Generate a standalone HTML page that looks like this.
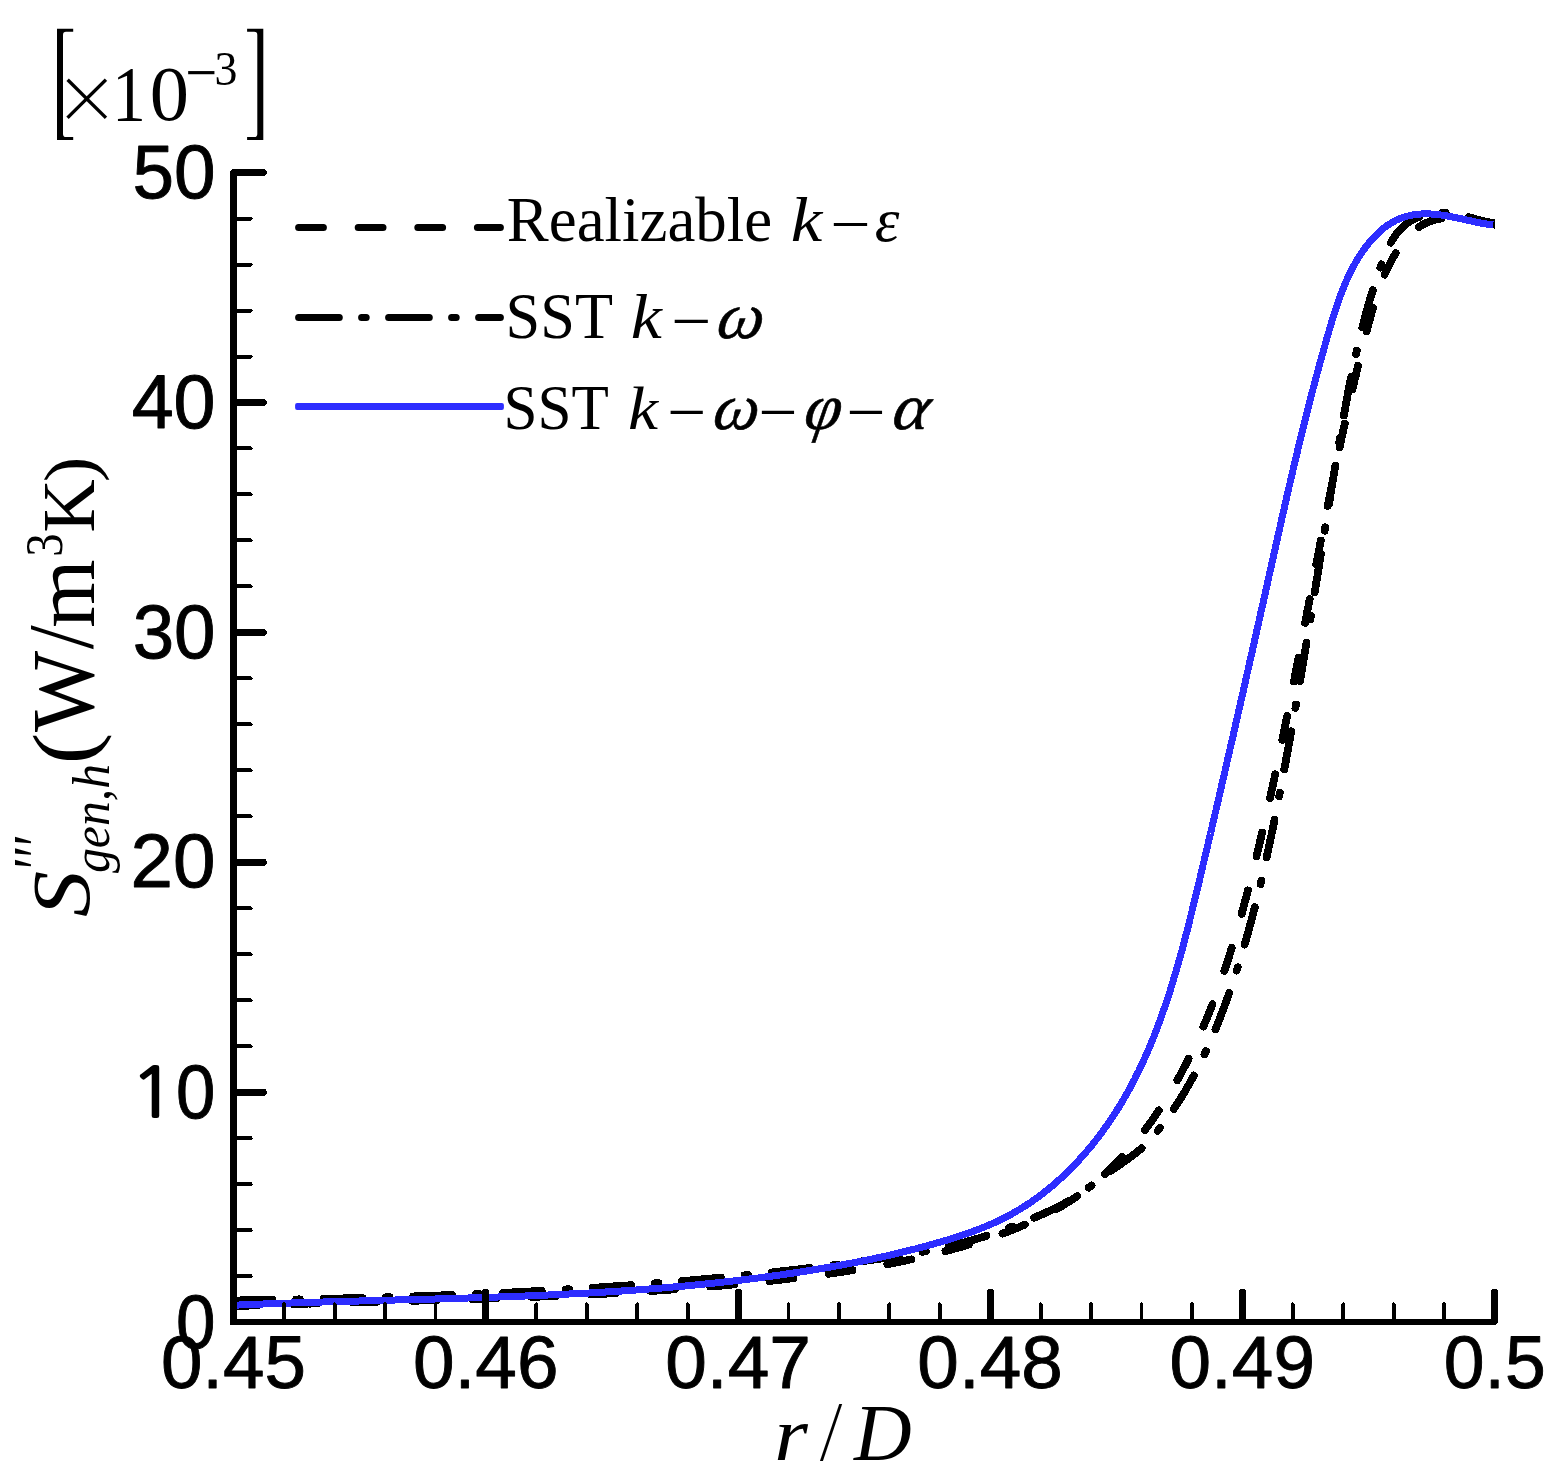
<!DOCTYPE html>
<html lang="en"><head><meta charset="utf-8"><title>Entropy generation plot</title>
<style>
html,body{margin:0;padding:0;background:#fff;}
body{width:1568px;height:1482px;overflow:hidden;}
svg{display:block;}
.sans{font-family:"Liberation Sans",Arial,Helvetica,sans-serif;}
.nanum{font-family:"NanumGothic","Liberation Sans",sans-serif;}
.serif{font-family:"Liberation Serif","Times New Roman",Times,serif;}
.it{font-style:italic;}
</style></head><body>
<svg width="1568" height="1482" viewBox="0 0 1568 1482">
<rect width="1568" height="1482" fill="#fff"/>
<defs><clipPath id="plotclip"><rect x="233.7" y="160" width="1261.3" height="1165"/></clipPath></defs>
<g fill="none" stroke-linecap="round" stroke-linejoin="round" clip-path="url(#plotclip)" shape-rendering="crispEdges">
<path d="M233.8,1306.2 L236.0,1306.1 L238.2,1306.0 L240.4,1305.9 L242.6,1305.8 L244.8,1305.7 L247.0,1305.7 L249.2,1305.6 L251.4,1305.5 L253.6,1305.4 L255.8,1305.3 L257.9,1305.3 L260.1,1305.2 L262.3,1305.1 L264.5,1305.0 L266.7,1305.0 L268.9,1304.9 L271.1,1304.8 L273.3,1304.7 L275.5,1304.7 L277.7,1304.6 L279.9,1304.5 L282.1,1304.5 L284.3,1304.4 L286.5,1304.3 L288.7,1304.2 L290.9,1304.2 L293.1,1304.1 L295.3,1304.0 L297.5,1304.0 L299.7,1303.9 L301.9,1303.8 L304.1,1303.8 L306.3,1303.7 L308.5,1303.6 L310.7,1303.6 L312.9,1303.5 L315.1,1303.4 L317.3,1303.4 L319.6,1303.3 L321.8,1303.2 L324.0,1303.2 L326.2,1303.1 L328.4,1303.1 L330.6,1303.0 L332.8,1302.9 L335.0,1302.9 L337.2,1302.8 L339.4,1302.7 L341.6,1302.7 L343.8,1302.6 L346.0,1302.6 L348.2,1302.5 L350.4,1302.4 L352.6,1302.4 L354.8,1302.3 L357.1,1302.3 L359.3,1302.2 L361.5,1302.1 L363.7,1302.1 L365.9,1302.0 L368.1,1302.0 L370.3,1301.9 L372.5,1301.8 L374.7,1301.8 L376.9,1301.7 L379.1,1301.7 L381.3,1301.6 L383.6,1301.5 L385.8,1301.5 L388.0,1301.4 L390.2,1301.4 L392.4,1301.3 L394.6,1301.2 L396.8,1301.2 L399.0,1301.1 L401.2,1301.1 L403.5,1301.0 L405.7,1300.9 L407.9,1300.9 L410.1,1300.8 L412.3,1300.8 L414.5,1300.7 L416.7,1300.6 L418.9,1300.6 L421.1,1300.5 L423.4,1300.5 L425.6,1300.4 L427.8,1300.3 L430.0,1300.3 L432.2,1300.2 L434.4,1300.2 L436.6,1300.1 L438.8,1300.0 L441.1,1300.0 L443.3,1299.9 L445.5,1299.8 L447.7,1299.8 L449.9,1299.7 L452.1,1299.6 L454.3,1299.6 L456.5,1299.5 L458.8,1299.4 L461.0,1299.4 L463.2,1299.3 L465.4,1299.2 L467.6,1299.2 L469.8,1299.1 L472.0,1299.0 L474.2,1299.0 L476.5,1298.9 L478.7,1298.8 L480.9,1298.8 L483.1,1298.7 L485.3,1298.6 L487.5,1298.5 L489.7,1298.5 L492.0,1298.4 L494.2,1298.3 L496.4,1298.3 L498.6,1298.2 L500.8,1298.1 L503.0,1298.0 L505.2,1297.9 L507.4,1297.9 L509.7,1297.8 L511.9,1297.7 L514.1,1297.6 L516.3,1297.6 L518.5,1297.5 L520.7,1297.4 L522.9,1297.3 L525.2,1297.2 L527.4,1297.1 L529.6,1297.1 L531.8,1297.0 L534.0,1296.9 L536.2,1296.8 L538.4,1296.7 L540.6,1296.6 L542.9,1296.5 L545.1,1296.4 L547.3,1296.4 L549.5,1296.3 L551.7,1296.2 L553.9,1296.1 L556.1,1296.0 L558.3,1295.9 L560.5,1295.8 L562.8,1295.7 L565.0,1295.6 L567.2,1295.5 L569.4,1295.4 L571.6,1295.3 L573.8,1295.2 L576.0,1295.1 L578.2,1295.0 L580.4,1294.9 L582.7,1294.8 L584.9,1294.7 L587.1,1294.6 L589.3,1294.5 L591.5,1294.4 L593.7,1294.2 L595.9,1294.1 L598.1,1294.0 L600.3,1293.9 L602.5,1293.8 L604.7,1293.7 L607.0,1293.6 L609.2,1293.4 L611.4,1293.3 L613.6,1293.2 L615.8,1293.1 L618.0,1293.0 L620.2,1292.8 L622.4,1292.7 L624.6,1292.6 L626.8,1292.4 L629.0,1292.3 L631.2,1292.2 L633.4,1292.1 L635.7,1291.9 L637.9,1291.8 L640.1,1291.6 L642.3,1291.5 L644.5,1291.4 L646.7,1291.2 L648.9,1291.1 L651.1,1290.9 L653.3,1290.8 L655.5,1290.7 L657.7,1290.5 L659.9,1290.4 L662.1,1290.2 L664.3,1290.1 L666.5,1289.9 L668.7,1289.8 L670.9,1289.6 L673.1,1289.4 L675.3,1289.3 L677.5,1289.1 L679.7,1289.0 L681.9,1288.8 L684.1,1288.6 L686.3,1288.5 L688.5,1288.3 L690.7,1288.1 L692.9,1288.0 L695.1,1287.8 L697.3,1287.6 L699.5,1287.4 L701.7,1287.3 L703.9,1287.1 L706.1,1286.9 L708.3,1286.7 L710.5,1286.5 L712.7,1286.4 L714.9,1286.2 L717.1,1286.0 L719.3,1285.8 L721.5,1285.6 L723.7,1285.4 L725.9,1285.2 L728.1,1285.0 L730.3,1284.8 L732.4,1284.6 L734.6,1284.4 L736.8,1284.2 L739.0,1284.0 L741.2,1283.8 L743.4,1283.6 L745.6,1283.4 L747.8,1283.2 L750.0,1282.9 L752.2,1282.7 L754.4,1282.5 L756.5,1282.3 L758.7,1282.1 L760.9,1281.8 L763.1,1281.6 L765.3,1281.4 L767.5,1281.1 L769.7,1280.9 L771.9,1280.7 L774.0,1280.4 L776.2,1280.2 L778.4,1280.0 L780.6,1279.7 L782.8,1279.5 L785.0,1279.2 L787.1,1279.0 L789.3,1278.7 L791.5,1278.5 L793.7,1278.2 L795.9,1278.0 L798.1,1277.7 L800.2,1277.4 L802.4,1277.2 L804.6,1276.9 L806.8,1276.6 L809.0,1276.3 L811.1,1276.1 L813.3,1275.8 L815.5,1275.5 L817.7,1275.2 L819.8,1274.9 L822.0,1274.6 L824.2,1274.4 L826.4,1274.1 L828.5,1273.8 L830.7,1273.4 L832.9,1273.1 L835.1,1272.8 L837.2,1272.5 L839.4,1272.2 L841.6,1271.9 L843.8,1271.6 L845.9,1271.2 L848.1,1270.9 L850.3,1270.6 L852.4,1270.2 L854.6,1269.9 L856.8,1269.5 L859.0,1269.2 L861.1,1268.8 L863.3,1268.5 L865.5,1268.1 L867.6,1267.7 L869.8,1267.4 L872.0,1267.0 L874.1,1266.6 L876.3,1266.2 L878.5,1265.8 L880.6,1265.4 L882.8,1265.0 L885.0,1264.6 L887.1,1264.2 L889.3,1263.8 L891.5,1263.4 L893.6,1262.9 L895.8,1262.5 L898.0,1262.1 L900.1,1261.6 L902.3,1261.2 L904.5,1260.8 L906.6,1260.3 L908.8,1259.8 L911.0,1259.4 L913.1,1258.9 L915.3,1258.4 L917.4,1257.9 L919.6,1257.4 L921.8,1257.0 L923.9,1256.5 L926.1,1255.9 L928.2,1255.4 L930.4,1254.9 L932.6,1254.4 L934.7,1253.9 L936.9,1253.3 L939.0,1252.8 L941.2,1252.2 L943.4,1251.7 L945.5,1251.1 L947.7,1250.6 L949.8,1250.0 L952.0,1249.4 L954.2,1248.8 L956.3,1248.2 L958.5,1247.6 L960.6,1247.0 L962.8,1246.4 L965.0,1245.8 L967.1,1245.1 L969.3,1244.5 L971.4,1243.9 L973.6,1243.2 L975.7,1242.6 L977.9,1241.9 L980.0,1241.2 L982.2,1240.5 L984.3,1239.8 L986.4,1239.1 L988.6,1238.4 L990.7,1237.7 L992.9,1237.0 L995.0,1236.3 L997.1,1235.5 L999.2,1234.8 L1001.3,1234.0 L1003.5,1233.2 L1005.6,1232.4 L1007.7,1231.7 L1009.8,1230.8 L1011.8,1230.0 L1013.9,1229.2 L1016.0,1228.4 L1018.1,1227.5 L1020.2,1226.7 L1022.2,1225.8 L1024.3,1224.9 L1026.3,1224.0 L1028.4,1223.1 L1030.4,1222.2 L1032.4,1221.3 L1034.4,1220.4 L1036.5,1219.4 L1038.5,1218.5 L1040.5,1217.5 L1042.4,1216.5 L1044.4,1215.5 L1046.4,1214.5 L1048.4,1213.5 L1050.3,1212.5 L1052.3,1211.4 L1054.2,1210.3 L1056.1,1209.3 L1058.0,1208.2 L1059.9,1207.1 L1061.8,1206.0 L1063.7,1204.8 L1065.6,1203.7 L1067.4,1202.5 L1069.3,1201.4 L1071.1,1200.2 L1072.9,1199.0 L1074.7,1197.8 L1076.5,1196.5 L1078.3,1195.3 L1080.1,1194.0 L1081.9,1192.7 L1083.6,1191.5 L1085.4,1190.2 L1087.1,1188.8 L1088.8,1187.5 L1090.5,1186.2 L1092.2,1184.8 L1093.9,1183.5 L1095.6,1182.1 L1097.3,1180.7 L1098.9,1179.3 L1100.6,1177.9 L1102.2,1176.4 L1103.8,1175.0 L1105.4,1173.5 L1107.0,1172.1 L1108.6,1170.6 L1110.2,1169.1 L1111.7,1167.6 L1113.3,1166.1 L1114.8,1164.5 L1116.4,1163.0 L1117.9,1161.5 L1119.4,1159.9 L1120.9,1158.3 L1122.4,1156.7 L1123.9,1155.1 L1125.4,1153.5 L1126.8,1151.9 L1128.3,1150.3 L1129.7,1148.7 L1131.2,1147.0 L1132.6,1145.4 L1134.0,1143.7 L1135.4,1142.0 L1136.8,1140.3 L1138.2,1138.6 L1139.5,1136.9 L1140.9,1135.2 L1142.2,1133.5 L1143.6,1131.8 L1144.9,1130.0 L1146.2,1128.3 L1147.5,1126.5 L1148.9,1124.7 L1150.1,1123.0 L1151.4,1121.2 L1152.7,1119.4 L1154.0,1117.6 L1155.2,1115.8 L1156.5,1114.0 L1157.7,1112.1 L1158.9,1110.3 L1160.2,1108.5 L1161.4,1106.6 L1162.6,1104.8 L1163.8,1102.9 L1164.9,1101.0 L1166.1,1099.2 L1167.3,1097.3 L1168.4,1095.4 L1169.6,1093.5 L1170.7,1091.6 L1171.8,1089.7 L1173.0,1087.8 L1174.1,1085.9 L1175.2,1083.9 L1176.3,1082.0 L1177.4,1080.1 L1178.4,1078.1 L1179.5,1076.2 L1180.6,1074.2 L1181.6,1072.3 L1182.7,1070.3 L1183.7,1068.3 L1184.7,1066.4 L1185.8,1064.4 L1186.8,1062.4 L1187.8,1060.4 L1188.8,1058.4 L1189.7,1056.4 L1190.7,1054.4 L1191.7,1052.4 L1192.7,1050.4 L1193.6,1048.4 L1194.6,1046.4 L1195.5,1044.4 L1196.4,1042.4 L1197.4,1040.3 L1198.3,1038.3 L1199.2,1036.3 L1200.1,1034.2 L1201.0,1032.2 L1201.9,1030.2 L1202.8,1028.1 L1203.6,1026.1 L1204.5,1024.0 L1205.3,1022.0 L1206.2,1019.9 L1207.0,1017.9 L1207.9,1015.8 L1208.7,1013.8 L1209.5,1011.7 L1210.3,1009.6 L1211.2,1007.6 L1212.0,1005.5 L1212.8,1003.5 L1213.5,1001.4 L1214.3,999.3 L1215.1,997.2 L1215.9,995.2 L1216.6,993.1 L1217.4,991.0 L1218.1,988.9 L1218.9,986.8 L1219.6,984.8 L1220.4,982.7 L1221.1,980.6 L1221.8,978.5 L1222.5,976.4 L1223.2,974.3 L1224.0,972.2 L1224.7,970.1 L1225.4,968.0 L1226.0,965.9 L1226.7,963.8 L1227.4,961.7 L1228.1,959.6 L1228.8,957.5 L1229.4,955.4 L1230.1,953.3 L1230.7,951.2 L1231.4,949.1 L1232.0,947.0 L1232.7,944.9 L1233.3,942.8 L1234.0,940.7 L1234.6,938.6 L1235.2,936.4 L1235.8,934.3 L1236.5,932.2 L1237.1,930.1 L1237.7,928.0 L1238.3,925.8 L1238.9,923.7 L1239.5,921.6 L1240.1,919.5 L1240.7,917.4 L1241.3,915.2 L1241.9,913.1 L1242.4,911.0 L1243.0,908.8 L1243.6,906.7 L1244.2,904.6 L1244.7,902.5 L1245.3,900.3 L1245.9,898.2 L1246.4,896.1 L1247.0,893.9 L1247.6,891.8 L1248.1,889.7 L1248.7,887.5 L1249.2,885.4 L1249.8,883.3 L1250.3,881.1 L1250.9,879.0 L1251.4,876.8 L1251.9,874.7 L1252.5,872.6 L1253.0,870.4 L1253.6,868.3 L1254.1,866.2 L1254.6,864.0 L1255.1,861.9 L1255.7,859.7 L1256.2,857.6 L1256.7,855.4 L1257.2,853.3 L1257.8,851.2 L1258.3,849.0 L1258.8,846.9 L1259.3,844.7 L1259.8,842.6 L1260.3,840.4 L1260.8,838.3 L1261.3,836.2 L1261.8,834.0 L1262.3,831.9 L1262.8,829.7 L1263.3,827.6 L1263.8,825.4 L1264.3,823.3 L1264.8,821.1 L1265.3,819.0 L1265.8,816.8 L1266.3,814.7 L1266.8,812.5 L1267.3,810.4 L1267.7,808.2 L1268.2,806.1 L1268.7,803.9 L1269.2,801.8 L1269.7,799.6 L1270.1,797.5 L1270.6,795.3 L1271.1,793.2 L1271.6,791.0 L1272.0,788.9 L1272.5,786.7 L1273.0,784.5 L1273.4,782.4 L1273.9,780.2 L1274.4,778.1 L1274.8,775.9 L1275.3,773.8 L1275.7,771.6 L1276.2,769.5 L1276.7,767.3 L1277.1,765.1 L1277.6,763.0 L1278.0,760.8 L1278.5,758.7 L1278.9,756.5 L1279.4,754.3 L1279.8,752.2 L1280.3,750.0 L1280.7,747.9 L1281.2,745.7 L1281.6,743.5 L1282.0,741.4 L1282.5,739.2 L1282.9,737.1 L1283.4,734.9 L1283.8,732.7 L1284.2,730.6 L1284.7,728.4 L1285.1,726.3 L1285.5,724.1 L1286.0,721.9 L1286.4,719.8 L1286.8,717.6 L1287.3,715.4 L1287.7,713.3 L1288.1,711.1 L1288.6,709.0 L1289.0,706.8 L1289.4,704.6 L1289.9,702.5 L1290.3,700.3 L1290.7,698.1 L1291.1,696.0 L1291.6,693.8 L1292.0,691.6 L1292.4,689.5 L1292.8,687.3 L1293.2,685.1 L1293.7,683.0 L1294.1,680.8 L1294.5,678.6 L1294.9,676.5 L1295.3,674.3 L1295.8,672.1 L1296.2,670.0 L1296.6,667.8 L1297.0,665.6 L1297.4,663.5 L1297.8,661.3 L1298.3,659.1 L1298.7,657.0 L1299.1,654.8 L1299.5,652.6 L1299.9,650.5 L1300.3,648.3 L1300.7,646.1 L1301.2,643.9 L1301.6,641.8 L1302.0,639.6 L1302.4,637.4 L1302.8,635.3 L1303.2,633.1 L1303.6,630.9 L1304.0,628.8 L1304.5,626.6 L1304.9,624.4 L1305.3,622.3 L1305.7,620.1 L1306.1,617.9 L1306.5,615.7 L1306.9,613.6 L1307.3,611.4 L1307.7,609.2 L1308.2,607.1 L1308.6,604.9 L1309.0,602.7 L1309.4,600.6 L1309.8,598.4 L1310.2,596.2 L1310.6,594.0 L1311.0,591.9 L1311.4,589.7 L1311.9,587.5 L1312.3,585.4 L1312.7,583.2 L1313.1,581.0 L1313.5,578.8 L1313.9,576.7 L1314.3,574.5 L1314.7,572.3 L1315.2,570.2 L1315.6,568.0 L1316.0,565.8 L1316.4,563.7 L1316.8,561.5 L1317.2,559.3 L1317.6,557.1 L1318.1,555.0 L1318.5,552.8 L1318.9,550.6 L1319.3,548.5 L1319.7,546.3 L1320.1,544.1 L1320.6,541.9 L1321.0,539.8 L1321.4,537.6 L1321.8,535.4 L1322.3,533.3 L1322.7,531.1 L1323.1,528.9 L1323.5,526.8 L1323.9,524.6 L1324.4,522.4 L1324.8,520.2 L1325.2,518.1 L1325.6,515.9 L1326.1,513.7 L1326.5,511.6 L1326.9,509.4 L1327.4,507.2 L1327.8,505.1 L1328.2,502.9 L1328.7,500.7 L1329.1,498.6 L1329.5,496.4 L1330.0,494.2 L1330.4,492.1 L1330.8,489.9 L1331.3,487.7 L1331.7,485.6 L1332.1,483.4 L1332.6,481.2 L1333.0,479.0 L1333.5,476.9 L1333.9,474.7 L1334.4,472.5 L1334.8,470.4 L1335.3,468.2 L1335.7,466.0 L1336.2,463.9 L1336.6,461.7 L1337.1,459.6 L1337.5,457.4 L1338.0,455.2 L1338.4,453.1 L1338.9,450.9 L1339.3,448.7 L1339.8,446.6 L1340.2,444.4 L1340.7,442.2 L1341.2,440.1 L1341.6,437.9 L1342.1,435.7 L1342.6,433.6 L1343.0,431.4 L1343.5,429.3 L1344.0,427.1 L1344.5,424.9 L1344.9,422.8 L1345.4,420.6 L1345.9,418.4 L1346.4,416.3 L1346.8,414.1 L1347.3,412.0 L1347.8,409.8 L1348.3,407.6 L1348.8,405.5 L1349.3,403.3 L1349.8,401.2 L1350.2,399.0 L1350.7,396.8 L1351.2,394.7 L1351.7,392.5 L1352.2,390.4 L1352.7,388.2 L1353.2,386.0 L1353.7,383.9 L1354.2,381.7 L1354.7,379.6 L1355.3,377.4 L1355.8,375.3 L1356.3,373.1 L1356.8,371.0 L1357.3,368.8 L1357.8,366.6 L1358.4,364.5 L1358.9,362.3 L1359.4,360.2 L1359.9,358.0 L1360.5,355.9 L1361.0,353.7 L1361.5,351.6 L1362.0,349.4 L1362.6,347.3 L1363.1,345.1 L1363.7,343.0 L1364.2,340.8 L1364.8,338.7 L1365.3,336.5 L1365.8,334.4 L1366.4,332.2 L1367.0,330.1 L1367.5,327.9 L1368.1,325.8 L1368.6,323.6 L1369.2,321.5 L1369.8,319.3 L1370.3,317.2 L1370.9,315.1 L1371.5,312.9 L1372.1,310.8 L1372.7,308.7 L1373.3,306.5 L1374.0,304.4 L1374.6,302.3 L1375.3,300.2 L1375.9,298.1 L1376.6,296.0 L1377.3,293.9 L1378.0,291.8 L1378.7,289.7 L1379.5,287.7 L1380.2,285.6 L1381.0,283.5 L1381.8,281.5 L1382.6,279.5 L1383.4,277.4 L1384.3,275.4 L1385.1,273.4 L1386.0,271.4 L1387.0,269.4 L1387.9,267.4 L1388.9,265.5 L1389.9,263.5 L1390.9,261.6 L1391.9,259.7 L1393.0,257.7 L1394.1,255.8 L1395.2,254.0 L1396.4,252.1 L1397.6,250.2 L1398.8,248.4 L1400.1,246.6 L1401.4,244.8 L1402.7,243.0 L1404.1,241.2 L1405.5,239.5 L1406.9,237.8 L1408.4,236.2 L1409.9,234.6 L1411.4,233.1 L1413.0,231.6 L1414.7,230.2 L1416.3,228.9 L1418.1,227.6 L1419.8,226.4 L1421.6,225.3 L1423.5,224.3 L1425.4,223.3 L1427.3,222.4 L1429.3,221.6 L1431.3,220.9 L1433.4,220.3 L1435.5,219.7 L1437.6,219.2 L1439.7,218.7 L1441.9,218.4 L1444.1,218.1 L1446.3,217.8 L1448.5,217.6 L1450.7,217.5 L1453.0,217.5 L1455.3,217.5 L1457.5,217.6 L1459.8,217.7 L1462.1,217.9 L1464.4,218.2 L1466.6,218.5 L1468.9,218.8 L1471.2,219.2 L1473.4,219.6 L1475.7,220.0 L1477.9,220.4 L1480.1,220.9 L1482.3,221.4 L1484.5,222.0 L1486.6,222.5 L1488.8,223.0 L1490.9,223.6 L1492.9,224.1 L1494.9,224.7" stroke="#000" stroke-width="7.8" stroke-dasharray="24.3 35.3"/>
<path d="M233.7,1300.5 L235.9,1300.4 L238.1,1300.4 L240.3,1300.4 L242.6,1300.3 L244.8,1300.3 L247.0,1300.3 L249.3,1300.2 L251.5,1300.2 L253.7,1300.2 L256.0,1300.1 L258.2,1300.1 L260.4,1300.1 L262.6,1300.0 L264.9,1300.0 L267.1,1299.9 L269.3,1299.9 L271.6,1299.9 L273.8,1299.8 L276.0,1299.8 L278.3,1299.8 L280.5,1299.7 L282.7,1299.7 L284.9,1299.6 L287.2,1299.6 L289.4,1299.5 L291.6,1299.5 L293.9,1299.5 L296.1,1299.4 L298.3,1299.4 L300.5,1299.3 L302.8,1299.3 L305.0,1299.2 L307.2,1299.2 L309.5,1299.2 L311.7,1299.1 L313.9,1299.1 L316.1,1299.0 L318.4,1299.0 L320.6,1298.9 L322.8,1298.9 L325.1,1298.8 L327.3,1298.8 L329.5,1298.7 L331.8,1298.7 L334.0,1298.6 L336.2,1298.6 L338.4,1298.5 L340.7,1298.5 L342.9,1298.4 L345.1,1298.3 L347.4,1298.3 L349.6,1298.2 L351.8,1298.2 L354.0,1298.1 L356.3,1298.1 L358.5,1298.0 L360.7,1297.9 L362.9,1297.9 L365.2,1297.8 L367.4,1297.8 L369.6,1297.7 L371.9,1297.6 L374.1,1297.6 L376.3,1297.5 L378.5,1297.5 L380.8,1297.4 L383.0,1297.3 L385.2,1297.3 L387.5,1297.2 L389.7,1297.1 L391.9,1297.1 L394.1,1297.0 L396.4,1296.9 L398.6,1296.9 L400.8,1296.8 L403.0,1296.7 L405.3,1296.6 L407.5,1296.6 L409.7,1296.5 L412.0,1296.4 L414.2,1296.4 L416.4,1296.3 L418.6,1296.2 L420.9,1296.1 L423.1,1296.1 L425.3,1296.0 L427.5,1295.9 L429.8,1295.8 L432.0,1295.7 L434.2,1295.7 L436.5,1295.6 L438.7,1295.5 L440.9,1295.4 L443.1,1295.3 L445.4,1295.2 L447.6,1295.2 L449.8,1295.1 L452.0,1295.0 L454.3,1294.9 L456.5,1294.8 L458.7,1294.7 L460.9,1294.6 L463.2,1294.5 L465.4,1294.5 L467.6,1294.4 L469.8,1294.3 L472.1,1294.2 L474.3,1294.1 L476.5,1294.0 L478.7,1293.9 L481.0,1293.8 L483.2,1293.7 L485.4,1293.6 L487.6,1293.5 L489.9,1293.4 L492.1,1293.3 L494.3,1293.2 L496.5,1293.1 L498.8,1293.0 L501.0,1292.9 L503.2,1292.8 L505.4,1292.7 L507.7,1292.6 L509.9,1292.5 L512.1,1292.4 L514.3,1292.2 L516.6,1292.1 L518.8,1292.0 L521.0,1291.9 L523.2,1291.8 L525.5,1291.7 L527.7,1291.6 L529.9,1291.5 L532.1,1291.3 L534.4,1291.2 L536.6,1291.1 L538.8,1291.0 L541.0,1290.9 L543.3,1290.7 L545.5,1290.6 L547.7,1290.5 L549.9,1290.4 L552.2,1290.2 L554.4,1290.1 L556.6,1290.0 L558.8,1289.9 L561.0,1289.7 L563.3,1289.6 L565.5,1289.5 L567.7,1289.3 L569.9,1289.2 L572.2,1289.1 L574.4,1288.9 L576.6,1288.8 L578.8,1288.7 L581.1,1288.5 L583.3,1288.4 L585.5,1288.2 L587.7,1288.1 L589.9,1288.0 L592.2,1287.8 L594.4,1287.7 L596.6,1287.5 L598.8,1287.4 L601.0,1287.2 L603.3,1287.1 L605.5,1286.9 L607.7,1286.8 L609.9,1286.6 L612.2,1286.5 L614.4,1286.3 L616.6,1286.2 L618.8,1286.0 L621.0,1285.9 L623.3,1285.7 L625.5,1285.5 L627.7,1285.4 L629.9,1285.2 L632.1,1285.1 L634.4,1284.9 L636.6,1284.7 L638.8,1284.6 L641.0,1284.4 L643.2,1284.2 L645.5,1284.1 L647.7,1283.9 L649.9,1283.7 L652.1,1283.5 L654.3,1283.4 L656.6,1283.2 L658.8,1283.0 L661.0,1282.8 L663.2,1282.7 L665.4,1282.5 L667.7,1282.3 L669.9,1282.1 L672.1,1281.9 L674.3,1281.8 L676.5,1281.6 L678.8,1281.4 L681.0,1281.2 L683.2,1281.0 L685.4,1280.8 L687.6,1280.6 L689.9,1280.4 L692.1,1280.2 L694.3,1280.0 L696.5,1279.8 L698.7,1279.6 L700.9,1279.4 L703.2,1279.2 L705.4,1279.0 L707.6,1278.8 L709.8,1278.6 L712.0,1278.4 L714.2,1278.2 L716.5,1278.0 L718.7,1277.8 L720.9,1277.6 L723.1,1277.4 L725.3,1277.2 L727.6,1276.9 L729.8,1276.7 L732.0,1276.5 L734.2,1276.3 L736.4,1276.1 L738.6,1275.9 L740.9,1275.6 L743.1,1275.4 L745.3,1275.2 L747.5,1275.0 L749.7,1274.7 L751.9,1274.5 L754.1,1274.3 L756.4,1274.0 L758.6,1273.8 L760.8,1273.6 L763.0,1273.3 L765.2,1273.1 L767.4,1272.8 L769.7,1272.6 L771.9,1272.4 L774.1,1272.1 L776.3,1271.9 L778.5,1271.6 L780.7,1271.4 L782.9,1271.1 L785.2,1270.9 L787.4,1270.6 L789.6,1270.4 L791.8,1270.1 L794.0,1269.9 L796.2,1269.6 L798.4,1269.4 L800.7,1269.1 L802.9,1268.8 L805.1,1268.6 L807.3,1268.3 L809.5,1268.0 L811.7,1267.8 L813.9,1267.5 L816.1,1267.2 L818.4,1267.0 L820.6,1266.7 L822.8,1266.4 L825.0,1266.1 L827.2,1265.9 L829.4,1265.6 L831.6,1265.3 L833.8,1265.0 L836.1,1264.7 L838.3,1264.4 L840.5,1264.1 L842.7,1263.9 L844.9,1263.6 L847.1,1263.3 L849.3,1263.0 L851.5,1262.7 L853.7,1262.4 L856.0,1262.1 L858.2,1261.8 L860.4,1261.5 L862.6,1261.2 L864.8,1260.9 L867.0,1260.6 L869.2,1260.3 L871.4,1260.0 L873.6,1259.7 L875.8,1259.3 L878.1,1259.0 L880.3,1258.7 L882.5,1258.4 L884.7,1258.1 L886.9,1257.7 L889.1,1257.4 L891.3,1257.1 L893.5,1256.7 L895.7,1256.4 L897.9,1256.0 L900.1,1255.7 L902.3,1255.3 L904.5,1255.0 L906.7,1254.6 L908.9,1254.2 L911.1,1253.9 L913.3,1253.5 L915.5,1253.1 L917.7,1252.7 L919.9,1252.3 L922.1,1251.9 L924.2,1251.5 L926.4,1251.1 L928.6,1250.6 L930.8,1250.2 L933.0,1249.8 L935.1,1249.3 L937.3,1248.8 L939.5,1248.4 L941.7,1247.9 L943.8,1247.4 L946.0,1246.9 L948.2,1246.4 L950.3,1245.9 L952.5,1245.4 L954.6,1244.9 L956.8,1244.3 L958.9,1243.8 L961.1,1243.2 L963.2,1242.7 L965.4,1242.1 L967.5,1241.5 L969.6,1240.9 L971.8,1240.3 L973.9,1239.7 L976.0,1239.0 L978.1,1238.4 L980.3,1237.8 L982.4,1237.1 L984.5,1236.4 L986.6,1235.7 L988.7,1235.0 L990.8,1234.3 L992.9,1233.6 L995.0,1232.9 L997.1,1232.2 L999.2,1231.4 L1001.3,1230.7 L1003.4,1229.9 L1005.5,1229.2 L1007.6,1228.4 L1009.7,1227.6 L1011.7,1226.8 L1013.8,1226.0 L1015.9,1225.2 L1018.0,1224.4 L1020.1,1223.6 L1022.1,1222.7 L1024.2,1221.9 L1026.3,1221.1 L1028.3,1220.2 L1030.4,1219.3 L1032.5,1218.5 L1034.5,1217.6 L1036.6,1216.7 L1038.7,1215.8 L1040.7,1214.9 L1042.8,1214.0 L1044.8,1213.1 L1046.8,1212.2 L1048.9,1211.2 L1050.9,1210.3 L1052.9,1209.3 L1054.9,1208.3 L1056.9,1207.3 L1058.9,1206.3 L1060.9,1205.3 L1062.9,1204.2 L1064.8,1203.2 L1066.8,1202.1 L1068.7,1201.0 L1070.6,1199.9 L1072.5,1198.7 L1074.4,1197.6 L1076.3,1196.4 L1078.1,1195.2 L1080.0,1193.9 L1081.8,1192.7 L1083.6,1191.4 L1085.4,1190.1 L1087.2,1188.8 L1088.9,1187.5 L1090.7,1186.1 L1092.4,1184.8 L1094.1,1183.4 L1095.9,1182.1 L1097.6,1180.7 L1099.4,1179.4 L1101.1,1178.0 L1102.9,1176.7 L1104.6,1175.3 L1106.4,1174.0 L1108.2,1172.7 L1110.0,1171.4 L1111.8,1170.1 L1113.6,1168.9 L1115.4,1167.6 L1117.2,1166.4 L1119.1,1165.1 L1120.9,1163.9 L1122.7,1162.6 L1124.5,1161.4 L1126.3,1160.1 L1128.1,1158.8 L1129.9,1157.5 L1131.7,1156.2 L1133.5,1154.9 L1135.2,1153.5 L1136.9,1152.2 L1138.6,1150.8 L1140.3,1149.3 L1142.0,1147.9 L1143.6,1146.4 L1145.2,1144.8 L1146.7,1143.3 L1148.3,1141.7 L1149.8,1140.0 L1151.3,1138.4 L1152.7,1136.7 L1154.2,1135.0 L1155.6,1133.3 L1157.0,1131.6 L1158.4,1129.9 L1159.8,1128.1 L1161.2,1126.4 L1162.5,1124.6 L1163.9,1122.8 L1165.2,1121.1 L1166.5,1119.3 L1167.8,1117.5 L1169.1,1115.7 L1170.4,1113.9 L1171.7,1112.0 L1172.9,1110.2 L1174.2,1108.4 L1175.4,1106.5 L1176.6,1104.7 L1177.8,1102.8 L1179.0,1100.9 L1180.2,1099.1 L1181.4,1097.2 L1182.6,1095.3 L1183.7,1093.4 L1184.9,1091.5 L1186.0,1089.6 L1187.1,1087.6 L1188.2,1085.7 L1189.3,1083.8 L1190.4,1081.8 L1191.5,1079.9 L1192.5,1077.9 L1193.6,1076.0 L1194.6,1074.0 L1195.7,1072.1 L1196.7,1070.1 L1197.7,1068.1 L1198.7,1066.1 L1199.7,1064.1 L1200.7,1062.1 L1201.7,1060.1 L1202.7,1058.1 L1203.6,1056.1 L1204.6,1054.1 L1205.5,1052.1 L1206.5,1050.0 L1207.4,1048.0 L1208.3,1046.0 L1209.2,1043.9 L1210.1,1041.9 L1211.0,1039.8 L1211.9,1037.8 L1212.8,1035.7 L1213.6,1033.7 L1214.5,1031.6 L1215.3,1029.5 L1216.2,1027.5 L1217.0,1025.4 L1217.9,1023.3 L1218.7,1021.3 L1219.5,1019.2 L1220.3,1017.1 L1221.1,1015.0 L1221.9,1012.9 L1222.7,1010.8 L1223.5,1008.7 L1224.3,1006.6 L1225.0,1004.5 L1225.8,1002.4 L1226.6,1000.3 L1227.3,998.2 L1228.1,996.1 L1228.8,994.0 L1229.5,991.9 L1230.3,989.8 L1231.0,987.7 L1231.7,985.6 L1232.4,983.5 L1233.1,981.4 L1233.8,979.2 L1234.5,977.1 L1235.2,975.0 L1235.9,972.9 L1236.6,970.8 L1237.3,968.6 L1238.0,966.5 L1238.6,964.4 L1239.3,962.3 L1239.9,960.1 L1240.6,958.0 L1241.3,955.9 L1241.9,953.7 L1242.5,951.6 L1243.2,949.5 L1243.8,947.3 L1244.4,945.2 L1245.0,943.1 L1245.7,940.9 L1246.3,938.8 L1246.9,936.6 L1247.5,934.5 L1248.1,932.4 L1248.7,930.2 L1249.3,928.1 L1249.9,925.9 L1250.4,923.8 L1251.0,921.6 L1251.6,919.5 L1252.2,917.3 L1252.7,915.2 L1253.3,913.0 L1253.9,910.9 L1254.4,908.7 L1255.0,906.6 L1255.5,904.4 L1256.1,902.3 L1256.6,900.1 L1257.1,897.9 L1257.7,895.8 L1258.2,893.6 L1258.7,891.5 L1259.3,889.3 L1259.8,887.1 L1260.3,885.0 L1260.8,882.8 L1261.3,880.6 L1261.8,878.5 L1262.3,876.3 L1262.8,874.1 L1263.3,872.0 L1263.8,869.8 L1264.3,867.6 L1264.8,865.4 L1265.3,863.3 L1265.8,861.1 L1266.3,858.9 L1266.7,856.8 L1267.2,854.6 L1267.7,852.4 L1268.2,850.2 L1268.6,848.1 L1269.1,845.9 L1269.6,843.7 L1270.0,841.5 L1270.5,839.3 L1270.9,837.2 L1271.4,835.0 L1271.9,832.8 L1272.3,830.6 L1272.8,828.4 L1273.2,826.3 L1273.7,824.1 L1274.1,821.9 L1274.5,819.7 L1275.0,817.5 L1275.4,815.3 L1275.9,813.2 L1276.3,811.0 L1276.7,808.8 L1277.2,806.6 L1277.6,804.4 L1278.0,802.2 L1278.4,800.0 L1278.9,797.9 L1279.3,795.7 L1279.7,793.5 L1280.1,791.3 L1280.6,789.1 L1281.0,786.9 L1281.4,784.7 L1281.8,782.5 L1282.2,780.4 L1282.6,778.2 L1283.1,776.0 L1283.5,773.8 L1283.9,771.6 L1284.3,769.4 L1284.7,767.2 L1285.1,765.0 L1285.5,762.8 L1285.9,760.6 L1286.3,758.4 L1286.7,756.3 L1287.1,754.1 L1287.5,751.9 L1287.9,749.7 L1288.3,747.5 L1288.7,745.3 L1289.1,743.1 L1289.5,740.9 L1289.9,738.7 L1290.3,736.5 L1290.7,734.3 L1291.1,732.1 L1291.5,729.9 L1291.9,727.7 L1292.3,725.5 L1292.7,723.3 L1293.1,721.2 L1293.5,719.0 L1293.8,716.8 L1294.2,714.6 L1294.6,712.4 L1295.0,710.2 L1295.4,708.0 L1295.8,705.8 L1296.1,703.6 L1296.5,701.4 L1296.9,699.2 L1297.3,697.0 L1297.7,694.8 L1298.0,692.6 L1298.4,690.4 L1298.8,688.2 L1299.2,686.0 L1299.6,683.8 L1299.9,681.6 L1300.3,679.4 L1300.7,677.2 L1301.0,675.0 L1301.4,672.8 L1301.8,670.6 L1302.2,668.4 L1302.5,666.2 L1302.9,664.0 L1303.3,661.8 L1303.6,659.6 L1304.0,657.4 L1304.4,655.2 L1304.7,653.0 L1305.1,650.8 L1305.5,648.6 L1305.8,646.4 L1306.2,644.2 L1306.6,642.0 L1306.9,639.8 L1307.3,637.6 L1307.7,635.4 L1308.0,633.2 L1308.4,631.0 L1308.8,628.8 L1309.1,626.6 L1309.5,624.4 L1309.8,622.2 L1310.2,620.0 L1310.6,617.8 L1310.9,615.6 L1311.3,613.4 L1311.6,611.2 L1312.0,609.0 L1312.4,606.8 L1312.7,604.6 L1313.1,602.4 L1313.4,600.2 L1313.8,598.0 L1314.1,595.8 L1314.5,593.6 L1314.9,591.4 L1315.2,589.2 L1315.6,587.0 L1315.9,584.8 L1316.3,582.6 L1316.6,580.4 L1317.0,578.2 L1317.4,576.0 L1317.7,573.8 L1318.1,571.6 L1318.4,569.4 L1318.8,567.2 L1319.1,565.0 L1319.5,562.8 L1319.8,560.6 L1320.2,558.4 L1320.6,556.2 L1320.9,554.0 L1321.3,551.8 L1321.6,549.6 L1322.0,547.4 L1322.3,545.2 L1322.7,543.0 L1323.0,540.8 L1323.4,538.6 L1323.8,536.4 L1324.1,534.2 L1324.5,532.0 L1324.8,529.8 L1325.2,527.6 L1325.5,525.4 L1325.9,523.2 L1326.2,521.0 L1326.6,518.9 L1327.0,516.7 L1327.3,514.5 L1327.7,512.3 L1328.0,510.1 L1328.4,507.9 L1328.7,505.7 L1329.1,503.5 L1329.5,501.3 L1329.8,499.1 L1330.2,496.9 L1330.5,494.7 L1330.9,492.5 L1331.3,490.3 L1331.6,488.1 L1332.0,485.9 L1332.3,483.7 L1332.7,481.5 L1333.1,479.3 L1333.4,477.1 L1333.8,474.9 L1334.1,472.7 L1334.5,470.5 L1334.9,468.3 L1335.2,466.1 L1335.6,464.0 L1336.0,461.8 L1336.3,459.6 L1336.7,457.4 L1337.1,455.2 L1337.4,453.0 L1337.8,450.8 L1338.2,448.6 L1338.5,446.4 L1338.9,444.2 L1339.3,442.0 L1339.6,439.8 L1340.0,437.6 L1340.4,435.5 L1340.8,433.3 L1341.1,431.1 L1341.5,428.9 L1341.9,426.7 L1342.3,424.5 L1342.7,422.3 L1343.0,420.1 L1343.4,417.9 L1343.8,415.8 L1344.2,413.6 L1344.6,411.4 L1345.0,409.2 L1345.4,407.0 L1345.8,404.8 L1346.2,402.6 L1346.6,400.4 L1347.0,398.3 L1347.4,396.1 L1347.8,393.9 L1348.2,391.7 L1348.7,389.5 L1349.1,387.3 L1349.5,385.2 L1349.9,383.0 L1350.4,380.8 L1350.8,378.6 L1351.2,376.4 L1351.7,374.3 L1352.1,372.1 L1352.6,369.9 L1353.0,367.7 L1353.5,365.6 L1354.0,363.4 L1354.4,361.2 L1354.9,359.0 L1355.4,356.9 L1355.8,354.7 L1356.3,352.5 L1356.8,350.3 L1357.3,348.2 L1357.8,346.0 L1358.3,343.8 L1358.8,341.7 L1359.4,339.5 L1359.9,337.3 L1360.4,335.1 L1360.9,333.0 L1361.5,330.8 L1362.0,328.7 L1362.6,326.5 L1363.1,324.3 L1363.7,322.2 L1364.3,320.0 L1364.8,317.8 L1365.4,315.7 L1366.0,313.5 L1366.6,311.4 L1367.2,309.2 L1367.8,307.0 L1368.4,304.9 L1369.1,302.7 L1369.7,300.6 L1370.3,298.4 L1371.0,296.3 L1371.6,294.1 L1372.3,292.0 L1373.0,289.8 L1373.6,287.7 L1374.3,285.5 L1375.0,283.4 L1375.7,281.2 L1376.4,279.1 L1377.1,276.9 L1377.8,274.8 L1378.6,272.6 L1379.3,270.5 L1380.1,268.4 L1380.8,266.2 L1381.6,264.1 L1382.4,262.0 L1383.2,259.8 L1384.0,257.7 L1384.8,255.6 L1385.7,253.5 L1386.6,251.5 L1387.5,249.4 L1388.4,247.4 L1389.4,245.4 L1390.4,243.5 L1391.5,241.6 L1392.6,239.7 L1393.7,237.9 L1394.9,236.1 L1396.2,234.3 L1397.5,232.6 L1398.8,231.0 L1400.2,229.4 L1401.7,227.9 L1403.3,226.4 L1404.9,225.0 L1406.6,223.7 L1408.3,222.5 L1410.2,221.3 L1412.1,220.2 L1414.0,219.1 L1416.0,218.2 L1418.1,217.3 L1420.2,216.5 L1422.3,215.7 L1424.5,215.1 L1426.6,214.5 L1428.9,214.0 L1431.1,213.6 L1433.4,213.2 L1435.6,213.0 L1437.9,212.8 L1440.2,212.7 L1442.4,212.7 L1444.7,212.8 L1447.0,212.9 L1449.2,213.1 L1451.4,213.4 L1453.7,213.8 L1455.9,214.2 L1458.1,214.6 L1460.3,215.1 L1462.5,215.6 L1464.7,216.2 L1466.9,216.7 L1469.1,217.3 L1471.3,217.9 L1473.4,218.5 L1475.6,219.1 L1477.7,219.7 L1479.9,220.2 L1482.0,220.8 L1484.2,221.3 L1486.3,221.8 L1488.4,222.2 L1490.5,222.6 L1492.6,222.9 L1494.7,223.2" stroke="#000" stroke-width="7.8" stroke-dasharray="38.9 23.7 3.5 23.7"/>
<path d="M233.7,1305.2 L237.1,1305.1 L240.4,1304.9 L243.7,1304.8 L247.0,1304.7 L250.2,1304.5 L253.5,1304.4 L256.8,1304.3 L260.1,1304.1 L263.4,1304.0 L266.7,1303.9 L270.0,1303.8 L273.3,1303.6 L276.6,1303.5 L279.9,1303.4 L283.2,1303.3 L286.5,1303.2 L289.8,1303.1 L293.1,1302.9 L296.4,1302.8 L299.7,1302.7 L303.0,1302.6 L306.3,1302.5 L309.6,1302.4 L312.9,1302.3 L316.2,1302.2 L319.5,1302.1 L322.8,1302.0 L326.1,1301.9 L329.4,1301.8 L332.7,1301.7 L336.0,1301.6 L339.3,1301.5 L342.6,1301.4 L345.9,1301.4 L349.2,1301.3 L352.6,1301.2 L355.9,1301.1 L359.2,1301.0 L362.5,1300.9 L365.8,1300.8 L369.1,1300.7 L372.4,1300.6 L375.7,1300.5 L379.0,1300.5 L382.3,1300.4 L385.6,1300.3 L388.9,1300.2 L392.3,1300.1 L395.6,1300.0 L398.9,1299.9 L402.2,1299.9 L405.5,1299.8 L408.8,1299.7 L412.1,1299.6 L415.4,1299.5 L418.7,1299.4 L422.0,1299.3 L425.4,1299.2 L428.7,1299.1 L432.0,1299.1 L435.3,1299.0 L438.6,1298.9 L441.9,1298.8 L445.2,1298.7 L448.5,1298.6 L451.8,1298.5 L455.2,1298.4 L458.5,1298.3 L461.8,1298.2 L465.1,1298.1 L468.4,1298.0 L471.7,1297.9 L475.0,1297.8 L478.3,1297.7 L481.6,1297.6 L485.0,1297.5 L488.3,1297.4 L491.6,1297.2 L494.9,1297.1 L498.2,1297.0 L501.5,1296.9 L504.8,1296.8 L508.1,1296.7 L511.4,1296.5 L514.8,1296.4 L518.1,1296.3 L521.4,1296.2 L524.7,1296.0 L528.0,1295.9 L531.3,1295.8 L534.6,1295.6 L537.9,1295.5 L541.2,1295.3 L544.5,1295.2 L547.8,1295.0 L551.2,1294.9 L554.5,1294.7 L557.8,1294.6 L561.1,1294.4 L564.4,1294.3 L567.7,1294.1 L571.0,1293.9 L574.3,1293.8 L577.6,1293.6 L580.9,1293.4 L584.2,1293.2 L587.5,1293.1 L590.8,1292.9 L594.1,1292.7 L597.4,1292.5 L600.7,1292.3 L604.0,1292.1 L607.3,1291.9 L610.6,1291.7 L614.0,1291.5 L617.3,1291.3 L620.6,1291.1 L623.9,1290.8 L627.2,1290.6 L630.5,1290.4 L633.8,1290.2 L637.1,1289.9 L640.3,1289.7 L643.6,1289.4 L646.9,1289.2 L650.2,1288.9 L653.5,1288.7 L656.8,1288.4 L660.1,1288.1 L663.4,1287.9 L666.7,1287.6 L670.0,1287.3 L673.3,1287.0 L676.6,1286.8 L679.9,1286.5 L683.2,1286.2 L686.5,1285.9 L689.8,1285.6 L693.0,1285.2 L696.3,1284.9 L699.6,1284.6 L702.9,1284.3 L706.2,1283.9 L709.5,1283.6 L712.8,1283.3 L716.1,1282.9 L719.3,1282.6 L722.6,1282.2 L725.9,1281.8 L729.2,1281.5 L732.5,1281.1 L735.7,1280.7 L739.0,1280.3 L742.3,1279.9 L745.6,1279.5 L748.9,1279.1 L752.1,1278.7 L755.4,1278.3 L758.7,1277.9 L762.0,1277.5 L765.2,1277.0 L768.5,1276.6 L771.8,1276.1 L775.0,1275.7 L778.3,1275.2 L781.6,1274.8 L784.8,1274.3 L788.1,1273.8 L791.4,1273.3 L794.6,1272.8 L797.9,1272.3 L801.2,1271.8 L804.4,1271.3 L807.7,1270.8 L810.9,1270.3 L814.2,1269.7 L817.5,1269.2 L820.7,1268.7 L824.0,1268.1 L827.2,1267.6 L830.5,1267.0 L833.7,1266.4 L837.0,1265.8 L840.2,1265.2 L843.5,1264.6 L846.7,1264.0 L850.0,1263.4 L853.2,1262.8 L856.5,1262.2 L859.7,1261.5 L863.0,1260.9 L866.2,1260.2 L869.4,1259.6 L872.7,1258.9 L875.9,1258.2 L879.1,1257.5 L882.4,1256.8 L885.6,1256.1 L888.8,1255.3 L892.1,1254.6 L895.3,1253.9 L898.5,1253.1 L901.7,1252.3 L904.9,1251.5 L908.1,1250.7 L911.4,1249.9 L914.6,1249.1 L917.8,1248.3 L921.0,1247.4 L924.2,1246.6 L927.4,1245.7 L930.6,1244.8 L933.8,1243.9 L937.0,1243.0 L940.1,1242.1 L943.3,1241.1 L946.5,1240.2 L949.7,1239.2 L952.9,1238.2 L956.0,1237.2 L959.2,1236.2 L962.3,1235.1 L965.5,1234.1 L968.6,1233.0 L971.7,1231.8 L974.8,1230.7 L977.9,1229.5 L981.0,1228.3 L984.1,1227.1 L987.1,1225.8 L990.2,1224.5 L993.2,1223.2 L996.2,1221.8 L999.2,1220.4 L1002.2,1218.9 L1005.1,1217.5 L1008.0,1215.9 L1010.9,1214.4 L1013.8,1212.8 L1016.7,1211.1 L1019.5,1209.4 L1022.3,1207.7 L1025.1,1206.0 L1027.9,1204.1 L1030.7,1202.3 L1033.4,1200.4 L1036.1,1198.5 L1038.7,1196.5 L1041.4,1194.6 L1044.0,1192.5 L1046.6,1190.5 L1049.2,1188.4 L1051.8,1186.3 L1054.3,1184.1 L1056.8,1181.9 L1059.3,1179.7 L1061.7,1177.5 L1064.2,1175.2 L1066.6,1172.9 L1068.9,1170.5 L1071.3,1168.2 L1073.6,1165.8 L1075.9,1163.4 L1078.2,1161.0 L1080.4,1158.5 L1082.7,1156.0 L1084.9,1153.5 L1087.0,1151.0 L1089.2,1148.5 L1091.3,1145.9 L1093.4,1143.4 L1095.4,1140.8 L1097.5,1138.1 L1099.5,1135.5 L1101.5,1132.9 L1103.4,1130.2 L1105.3,1127.5 L1107.2,1124.9 L1109.1,1122.1 L1110.9,1119.4 L1112.8,1116.7 L1114.6,1114.0 L1116.3,1111.2 L1118.1,1108.4 L1119.8,1105.6 L1121.5,1102.8 L1123.1,1100.0 L1124.8,1097.2 L1126.4,1094.4 L1128.0,1091.5 L1129.6,1088.6 L1131.1,1085.8 L1132.7,1082.9 L1134.2,1080.0 L1135.6,1077.1 L1137.1,1074.1 L1138.6,1071.2 L1140.0,1068.3 L1141.4,1065.3 L1142.8,1062.3 L1144.1,1059.4 L1145.5,1056.4 L1146.8,1053.4 L1148.1,1050.4 L1149.4,1047.4 L1150.7,1044.3 L1151.9,1041.3 L1153.2,1038.3 L1154.4,1035.2 L1155.6,1032.2 L1156.8,1029.1 L1157.9,1026.0 L1159.1,1022.9 L1160.2,1019.8 L1161.3,1016.7 L1162.4,1013.6 L1163.5,1010.5 L1164.6,1007.4 L1165.7,1004.3 L1166.7,1001.1 L1167.8,998.0 L1168.8,994.8 L1169.8,991.7 L1170.8,988.5 L1171.8,985.4 L1172.8,982.2 L1173.7,979.0 L1174.7,975.8 L1175.6,972.6 L1176.6,969.4 L1177.5,966.2 L1178.4,963.0 L1179.3,959.8 L1180.2,956.6 L1181.1,953.4 L1182.0,950.2 L1182.8,947.0 L1183.7,943.8 L1184.5,940.5 L1185.4,937.3 L1186.2,934.1 L1187.1,930.8 L1187.9,927.6 L1188.7,924.4 L1189.5,921.1 L1190.3,917.9 L1191.1,914.6 L1191.9,911.4 L1192.7,908.1 L1193.5,904.9 L1194.3,901.6 L1195.1,898.4 L1195.9,895.2 L1196.7,891.9 L1197.4,888.7 L1198.2,885.4 L1199.0,882.2 L1199.8,878.9 L1200.5,875.7 L1201.3,872.4 L1202.1,869.2 L1202.8,865.9 L1203.6,862.7 L1204.4,859.4 L1205.1,856.2 L1205.9,853.0 L1206.7,849.7 L1207.4,846.5 L1208.2,843.2 L1208.9,840.0 L1209.7,836.8 L1210.5,833.5 L1211.2,830.3 L1212.0,827.1 L1212.7,823.8 L1213.5,820.6 L1214.2,817.4 L1215.0,814.1 L1215.8,810.9 L1216.5,807.7 L1217.3,804.4 L1218.0,801.2 L1218.8,798.0 L1219.5,794.7 L1220.3,791.5 L1221.0,788.3 L1221.7,785.1 L1222.5,781.8 L1223.2,778.6 L1224.0,775.4 L1224.7,772.2 L1225.5,768.9 L1226.2,765.7 L1226.9,762.5 L1227.7,759.3 L1228.4,756.0 L1229.2,752.8 L1229.9,749.6 L1230.6,746.4 L1231.4,743.2 L1232.1,739.9 L1232.9,736.7 L1233.6,733.5 L1234.3,730.3 L1235.1,727.1 L1235.8,723.8 L1236.5,720.6 L1237.3,717.4 L1238.0,714.2 L1238.7,711.0 L1239.4,707.8 L1240.2,704.5 L1240.9,701.3 L1241.6,698.1 L1242.4,694.9 L1243.1,691.7 L1243.8,688.5 L1244.5,685.3 L1245.3,682.0 L1246.0,678.8 L1246.7,675.6 L1247.4,672.4 L1248.2,669.2 L1248.9,666.0 L1249.6,662.8 L1250.3,659.6 L1251.1,656.4 L1251.8,653.1 L1252.5,649.9 L1253.2,646.7 L1254.0,643.5 L1254.7,640.3 L1255.4,637.1 L1256.1,633.9 L1256.8,630.7 L1257.6,627.5 L1258.3,624.2 L1259.0,621.0 L1259.7,617.8 L1260.4,614.6 L1261.1,611.4 L1261.9,608.2 L1262.6,605.0 L1263.3,601.8 L1264.0,598.6 L1264.7,595.4 L1265.5,592.2 L1266.2,588.9 L1266.9,585.7 L1267.6,582.5 L1268.3,579.3 L1269.0,576.1 L1269.7,572.9 L1270.5,569.7 L1271.2,566.5 L1271.9,563.3 L1272.6,560.1 L1273.3,556.8 L1274.0,553.6 L1274.7,550.4 L1275.5,547.2 L1276.2,544.0 L1276.9,540.8 L1277.6,537.6 L1278.3,534.4 L1279.1,531.2 L1279.8,528.0 L1280.5,524.7 L1281.2,521.5 L1281.9,518.3 L1282.7,515.1 L1283.4,511.9 L1284.1,508.7 L1284.8,505.5 L1285.6,502.3 L1286.3,499.1 L1287.0,495.8 L1287.8,492.6 L1288.5,489.4 L1289.2,486.2 L1290.0,483.0 L1290.7,479.8 L1291.5,476.6 L1292.2,473.4 L1293.0,470.1 L1293.7,466.9 L1294.5,463.7 L1295.2,460.5 L1296.0,457.3 L1296.8,454.1 L1297.5,450.9 L1298.3,447.7 L1299.1,444.4 L1299.9,441.2 L1300.6,438.0 L1301.4,434.8 L1302.2,431.6 L1303.0,428.4 L1303.8,425.1 L1304.6,421.9 L1305.4,418.7 L1306.2,415.5 L1307.0,412.3 L1307.8,409.1 L1308.6,405.9 L1309.5,402.6 L1310.3,399.4 L1311.1,396.2 L1311.9,393.0 L1312.8,389.8 L1313.6,386.5 L1314.5,383.3 L1315.3,380.1 L1316.2,376.9 L1317.1,373.7 L1317.9,370.5 L1318.8,367.2 L1319.7,364.0 L1320.6,360.8 L1321.5,357.6 L1322.4,354.4 L1323.3,351.1 L1324.2,347.9 L1325.1,344.7 L1326.0,341.5 L1326.9,338.2 L1327.9,335.0 L1328.8,331.8 L1329.7,328.6 L1330.7,325.4 L1331.7,322.1 L1332.6,318.9 L1333.6,315.7 L1334.6,312.5 L1335.7,309.3 L1336.7,306.2 L1337.8,303.0 L1338.9,299.9 L1340.0,296.7 L1341.2,293.6 L1342.4,290.5 L1343.6,287.5 L1344.8,284.4 L1346.1,281.4 L1347.5,278.4 L1348.8,275.4 L1350.3,272.5 L1351.7,269.6 L1353.2,266.7 L1354.8,263.8 L1356.4,261.0 L1358.1,258.3 L1359.8,255.5 L1361.6,252.8 L1363.4,250.2 L1365.3,247.6 L1367.3,245.0 L1369.3,242.5 L1371.4,240.1 L1373.6,237.6 L1375.8,235.3 L1378.1,233.0 L1380.5,230.8 L1383.0,228.7 L1385.5,226.7 L1388.1,224.9 L1390.8,223.2 L1393.6,221.6 L1396.4,220.1 L1399.3,218.9 L1402.3,217.7 L1405.3,216.7 L1408.4,215.9 L1411.5,215.2 L1414.7,214.6 L1417.9,214.2 L1421.1,214.0 L1424.4,213.8 L1427.7,213.9 L1431.0,214.0 L1434.3,214.2 L1437.6,214.6 L1441.0,215.0 L1444.3,215.5 L1447.6,216.0 L1451.0,216.7 L1454.3,217.3 L1457.6,218.0 L1460.9,218.7 L1464.2,219.5 L1467.5,220.2 L1470.8,220.9 L1474.0,221.6 L1477.2,222.3 L1480.5,223.0 L1483.6,223.5 L1486.8,224.1 L1490.0,224.5 L1493.1,224.9" stroke="#2d2dff" stroke-width="7" stroke-linecap="butt"/>
</g>
<g stroke="#000" fill="none" stroke-linecap="round" shape-rendering="crispEdges">
<path d="M233.5,172.5 V1325" stroke-width="7" stroke-linecap="butt"/>
<path d="M230,1322 H1494.5" stroke-width="6" stroke-linecap="butt"/>
<line x1="233.7" y1="1276.2" x2="250.7" y2="1276.2" stroke-width="4"/>
<line x1="233.7" y1="1230.2" x2="250.7" y2="1230.2" stroke-width="4"/>
<line x1="233.7" y1="1184.2" x2="250.7" y2="1184.2" stroke-width="4"/>
<line x1="233.7" y1="1138.2" x2="250.7" y2="1138.2" stroke-width="4"/>
<line x1="233.7" y1="1092.3" x2="263.5" y2="1092.3" stroke-width="6.8"/>
<line x1="233.7" y1="1046.3" x2="250.7" y2="1046.3" stroke-width="4"/>
<line x1="233.7" y1="1000.3" x2="250.7" y2="1000.3" stroke-width="4"/>
<line x1="233.7" y1="954.3" x2="250.7" y2="954.3" stroke-width="4"/>
<line x1="233.7" y1="908.3" x2="250.7" y2="908.3" stroke-width="4"/>
<line x1="233.7" y1="862.3" x2="263.5" y2="862.3" stroke-width="6.8"/>
<line x1="233.7" y1="816.3" x2="250.7" y2="816.3" stroke-width="4"/>
<line x1="233.7" y1="770.3" x2="250.7" y2="770.3" stroke-width="4"/>
<line x1="233.7" y1="724.4" x2="250.7" y2="724.4" stroke-width="4"/>
<line x1="233.7" y1="678.4" x2="250.7" y2="678.4" stroke-width="4"/>
<line x1="233.7" y1="632.4" x2="263.5" y2="632.4" stroke-width="6.8"/>
<line x1="233.7" y1="586.4" x2="250.7" y2="586.4" stroke-width="4"/>
<line x1="233.7" y1="540.4" x2="250.7" y2="540.4" stroke-width="4"/>
<line x1="233.7" y1="494.4" x2="250.7" y2="494.4" stroke-width="4"/>
<line x1="233.7" y1="448.4" x2="250.7" y2="448.4" stroke-width="4"/>
<line x1="233.7" y1="402.4" x2="263.5" y2="402.4" stroke-width="6.8"/>
<line x1="233.7" y1="356.5" x2="250.7" y2="356.5" stroke-width="4"/>
<line x1="233.7" y1="310.5" x2="250.7" y2="310.5" stroke-width="4"/>
<line x1="233.7" y1="264.5" x2="250.7" y2="264.5" stroke-width="4"/>
<line x1="233.7" y1="218.5" x2="250.7" y2="218.5" stroke-width="4"/>
<line x1="233.7" y1="172.5" x2="263.5" y2="172.5" stroke-width="6.8"/>
<line x1="284.1" y1="1322.2" x2="284.1" y2="1304.2" stroke-width="3.8"/>
<line x1="334.6" y1="1322.2" x2="334.6" y2="1304.2" stroke-width="3.8"/>
<line x1="385.0" y1="1322.2" x2="385.0" y2="1304.2" stroke-width="3.8"/>
<line x1="435.4" y1="1322.2" x2="435.4" y2="1304.2" stroke-width="3.8"/>
<line x1="485.5" y1="1321.2" x2="485.5" y2="1292.4" stroke-width="7"/>
<line x1="536.3" y1="1322.2" x2="536.3" y2="1304.2" stroke-width="3.8"/>
<line x1="586.7" y1="1322.2" x2="586.7" y2="1304.2" stroke-width="3.8"/>
<line x1="637.2" y1="1322.2" x2="637.2" y2="1304.2" stroke-width="3.8"/>
<line x1="687.6" y1="1322.2" x2="687.6" y2="1304.2" stroke-width="3.8"/>
<line x1="738.5" y1="1321.2" x2="738.5" y2="1292.4" stroke-width="7"/>
<line x1="788.5" y1="1322.2" x2="788.5" y2="1304.2" stroke-width="3.8"/>
<line x1="838.9" y1="1322.2" x2="838.9" y2="1304.2" stroke-width="3.8"/>
<line x1="889.3" y1="1322.2" x2="889.3" y2="1304.2" stroke-width="3.8"/>
<line x1="939.7" y1="1322.2" x2="939.7" y2="1304.2" stroke-width="3.8"/>
<line x1="990.5" y1="1321.2" x2="990.5" y2="1292.4" stroke-width="7"/>
<line x1="1040.6" y1="1322.2" x2="1040.6" y2="1304.2" stroke-width="3.8"/>
<line x1="1091.0" y1="1322.2" x2="1091.0" y2="1304.2" stroke-width="3.8"/>
<line x1="1141.5" y1="1322.2" x2="1141.5" y2="1304.2" stroke-width="3.8"/>
<line x1="1191.9" y1="1322.2" x2="1191.9" y2="1304.2" stroke-width="3.8"/>
<line x1="1242.5" y1="1321.2" x2="1242.5" y2="1292.4" stroke-width="7"/>
<line x1="1292.8" y1="1322.2" x2="1292.8" y2="1304.2" stroke-width="3.8"/>
<line x1="1343.2" y1="1322.2" x2="1343.2" y2="1304.2" stroke-width="3.8"/>
<line x1="1393.6" y1="1322.2" x2="1393.6" y2="1304.2" stroke-width="3.8"/>
<line x1="1444.1" y1="1322.2" x2="1444.1" y2="1304.2" stroke-width="3.8"/>
<line x1="1494.5" y1="1321.2" x2="1494.5" y2="1292.4" stroke-width="7"/>
</g>
<g fill="none" stroke-linecap="round">
<path d="M298.6,227.5 H500.4" stroke="#000" stroke-width="7" stroke-dasharray="24.8 34.8"/>
<path d="M298.6,317.6 H500.4" stroke="#000" stroke-width="7" stroke-dasharray="40.7 22.3 4.6 22.4"/>
<rect x="295.1" y="403.1" width="208.8" height="6.8" rx="2" fill="#2d2dff" stroke="none"/>
</g>
<g fill="#000">
<path d="M57,28.8 H73.2 V31.8 H66 Q63,31.8 63,35 V134 Q63,137.1 66,137.1 H73.2 V140.1 H57 Z"/>
<path d="M263.3,28.8 H247.1 V31.8 H254.3 Q257.3,31.8 257.3,35 V134 Q257.3,137.1 254.3,137.1 H247.1 V140.1 H263.3 Z"/>
</g>
<g fill="#000">
<text class="serif" transform="translate(56.61,134.45) scale(1.3897,1.3773)" font-size="77" stroke="#fff" stroke-width="1.4" stroke-linejoin="miter">×</text>
<text class="serif" transform="translate(112.01,120.00) scale(0.8800,1.0263)" font-size="77">1</text>
<text class="serif" transform="translate(149.74,120.32) scale(1.0194,1.0250)" font-size="77">0</text>
<text class="serif" transform="translate(185.15,93.79) scale(1.1776,1.3286)" font-size="48">−</text>
<text class="serif" transform="translate(214.47,84.87) scale(0.9559,0.9959)" font-size="48">3</text>
<text class="sans" transform="translate(132.44,197.90) scale(0.9957,1.0043)" font-size="75" stroke="#000" stroke-width="0.9" stroke-linejoin="round">50</text>
<text class="sans" transform="translate(131.66,427.90) scale(1.0054,1.0043)" font-size="75" stroke="#000" stroke-width="0.9" stroke-linejoin="round">40</text>
<text class="sans" transform="translate(132.68,657.90) scale(0.9928,1.0043)" font-size="75" stroke="#000" stroke-width="0.9" stroke-linejoin="round">30</text>
<text class="sans" transform="translate(130.61,886.90) scale(1.0185,1.0043)" font-size="75" stroke="#000" stroke-width="0.9" stroke-linejoin="round">20</text>
<text class="nanum" transform="translate(130.18,1116.69) scale(1.0053,0.9069)" font-size="75" stroke="#000" stroke-width="2.3" stroke-linejoin="miter">1</text>
<text class="sans" transform="translate(176.00,1117.90) scale(0.9432,1.0043)" font-size="75" stroke="#000" stroke-width="0.9" stroke-linejoin="round">0</text>
<text class="sans" transform="translate(175.89,1347.79) scale(0.9459,1.0081)" font-size="75" stroke="#000" stroke-width="0.9" stroke-linejoin="round">0</text>
<text class="sans" transform="translate(160.88,1387.80) scale(0.9943,0.9950)" font-size="75" stroke="#000" stroke-width="0.9" stroke-linejoin="round">0.45</text>
<text class="sans" transform="translate(413.03,1387.80) scale(0.9967,0.9950)" font-size="75" stroke="#000" stroke-width="0.9" stroke-linejoin="round">0.46</text>
<text class="sans" transform="translate(665.19,1387.80) scale(0.9990,0.9950)" font-size="75" stroke="#000" stroke-width="0.9" stroke-linejoin="round">0.47</text>
<text class="sans" transform="translate(917.35,1387.80) scale(0.9967,0.9950)" font-size="75" stroke="#000" stroke-width="0.9" stroke-linejoin="round">0.48</text>
<text class="sans" transform="translate(1169.51,1387.80) scale(0.9967,0.9950)" font-size="75" stroke="#000" stroke-width="0.9" stroke-linejoin="round">0.49</text>
<text class="sans" transform="translate(1443.72,1387.80) scale(0.9785,0.9950)" font-size="75" stroke="#000" stroke-width="0.9" stroke-linejoin="round">0.5</text>
<text class="serif" transform="translate(506.83,240.74) scale(0.9827,0.9838)" font-size="64">Realizable</text>
<text class="serif it" transform="translate(790.68,241.20) scale(1.1085,0.9940)" font-size="64">k</text>
<text class="serif" transform="translate(830.27,245.11) scale(1.1191,0.9667)" font-size="64">−</text>
<text class="serif it" transform="translate(874.80,240.67) scale(0.9761,0.9452)" font-size="64">ε</text>
<text class="serif" transform="translate(505.58,338.22) scale(0.9743,1.0177)" font-size="64">SST</text>
<text class="serif it" transform="translate(630.81,338.20) scale(1.0939,0.9918)" font-size="64">k</text>
<text class="serif" transform="translate(671.29,344.18) scale(1.1124,1.0667)" font-size="64">−</text>
<text class="serif it" transform="translate(715.36,337.88) scale(1.0310,1.0245) skewX(-9)" font-size="64" stroke="#000" stroke-width="0.6" stroke-linejoin="round">ω</text>
<text class="serif" transform="translate(503.56,429.14) scale(0.9552,0.9877)" font-size="64">SST</text>
<text class="serif it" transform="translate(627.89,429.20) scale(1.0573,0.9672)" font-size="64">k</text>
<text class="serif" transform="translate(667.29,434.88) scale(1.0820,1.0667)" font-size="64">−</text>
<text class="serif it" transform="translate(711.44,428.79) scale(1.0071,1.0149) skewX(-9)" font-size="64" stroke="#000" stroke-width="0.6" stroke-linejoin="round">ω</text>
<text class="serif" transform="translate(758.39,434.88) scale(1.0820,1.0667)" font-size="64">−</text>
<text class="serif it" transform="translate(802.45,428.72) scale(1.0353,1.0128) skewX(-9)" font-size="64" stroke="#000" stroke-width="0.6" stroke-linejoin="round">φ</text>
<text class="serif" transform="translate(846.39,434.88) scale(1.0820,1.0667)" font-size="64">−</text>
<text class="serif it" transform="translate(890.84,428.79) scale(1.0855,1.0149) skewX(-9)" font-size="64" stroke="#000" stroke-width="0.6" stroke-linejoin="round">α</text>
<text class="serif it" transform="translate(774.20,1460.22) scale(1.1085,0.9633)" font-size="78">r</text>
<text class="serif it" transform="translate(822.38,1460.28) scale(0.7129,1.0788)" font-size="78">/</text>
<text class="serif it" transform="translate(853.92,1459.90) scale(1.0232,1.0196)" font-size="78">D</text>
<text class="serif it" transform="translate(89.35,917.10) rotate(-90) scale(1.1017,0.9759)" font-size="84">S</text>
<text class="serif it" transform="translate(59.28,871.96) rotate(-90) scale(1.0518,1.3371)" font-size="50">′′′</text>
<text class="serif it" transform="translate(109.25,873.00) rotate(-90) scale(0.9938,1.0456)" font-size="50">gen,h</text>
<text class="serif" transform="translate(92.76,764.19) rotate(-90) scale(1.0478,0.9602)" font-size="90">(</text>
<text class="serif" transform="translate(92.86,732.10) rotate(-90) scale(0.9783,1.0034)" font-size="88">W</text>
<text class="serif" transform="translate(92.45,649.20) rotate(-90) scale(0.9863,1.0458)" font-size="88">/</text>
<text class="serif" transform="translate(93.50,627.80) rotate(-90) scale(0.9985,0.9968)" font-size="88">m</text>
<text class="serif" transform="translate(62.12,556.80) rotate(-90) scale(0.9000,1.0171)" font-size="52">3</text>
<text class="serif" transform="translate(93.50,532.45) rotate(-90) scale(1.0257,1.0191)" font-size="72">K</text>
<text class="serif" transform="translate(93.75,482.16) rotate(-90) scale(1.0119,0.9406)" font-size="76">)</text>
</g>
</svg></body></html>
